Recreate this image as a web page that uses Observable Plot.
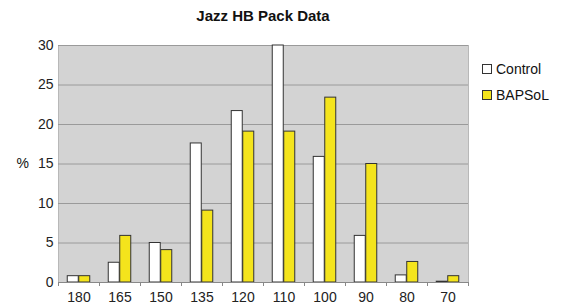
<!DOCTYPE html>
<html><head><meta charset="utf-8">
<script src="https://cdn.jsdelivr.net/npm/d3@7"></script>
<script src="https://cdn.jsdelivr.net/npm/@observablehq/plot@0.6"></script>
<style>
body{margin:0;background:#fff;font-family:"Liberation Sans",Arial,sans-serif;}
#wrap{position:relative;width:563px;height:304px;overflow:hidden;}
#title{position:absolute;left:0;width:526px;top:7px;text-align:center;font-weight:bold;font-size:15px;color:#111;}
#legend{position:absolute;left:482px;top:56px;font-size:14px;color:#111;}
#legend div{display:flex;align-items:center;height:26px;}
#legend span.sw{display:inline-block;width:8px;height:8px;border:1px solid #333;margin-right:4px;}
</style></head>
<body><div id="wrap"><div id="title">Jazz HB Pack Data</div><div id="legend"></div></div>
<script>
const categories = ["180","165","150","135","120","110","100","90","80","70"];
const control = [0.8, 2.5, 5.0, 17.6, 21.7, 30.0, 15.9, 5.9, 0.9, 0.1];
const bapsol = [0.8, 5.9, 4.1, 9.1, 19.1, 19.1, 23.4, 15.0, 2.6, 0.8];
const seriesNames = ["Control", "BAPSoL"];
const seriesColors = ["#ffffff", "#f4e41c"];
const yTicks = [0, 5, 10, 15, 20, 25, 30];

const dataC = categories.map((c, i) => ({cat: c, value: control[i]}));
const dataB = categories.map((c, i) => ({cat: c, value: bapsol[i]}));

const chart = Plot.plot({
  width: 563, height: 304,
  marginLeft: 58, marginRight: 95, marginTop: 45, marginBottom: 22,
  style: {fontFamily: "'Liberation Sans', Arial, sans-serif", fontSize: "14px", color: "#222", background: "transparent"},
  x: {domain: categories, paddingInner: 0.72, paddingOuter: 0.36, label: null, tickSize: 0, tickPadding: 10},
  y: {domain: [0, 30], ticks: yTicks, label: null, tickSize: 0, tickPadding: 5},
  marks: [
    Plot.frame({fill: "#d3d3d3", stroke: "#b8b8b8"}),
    Plot.gridY(yTicks, {stroke: "#9a9a9a", strokeOpacity: 1, strokeWidth: 1}),
    Plot.barY(dataC, {x: "cat", y: "value", dx: -5.75, fill: seriesColors[0], stroke: "#333", strokeWidth: 1}),
    Plot.barY(dataB, {x: "cat", y: "value", dx: 5.75, fill: seriesColors[1], stroke: "#333", strokeWidth: 1}),
    Plot.ruleY([0], {stroke: "#888"}),
    Plot.ruleX(categories, {x: d => d, dx: -20.5, insetTop: 237, insetBottom: -4, stroke: "#888"}),
    Plot.ruleX(categories.slice(-1), {x: d => d, dx: 20.5, insetTop: 237, insetBottom: -4, stroke: "#888"}),
    Plot.text(["%"], {frameAnchor: "left", dx: -42, fontSize: 14, fill: "#111"})
  ]
});
document.getElementById("wrap").prepend(chart);
const lg = document.getElementById("legend");
seriesNames.forEach((n, i) => {
  const d = document.createElement("div");
  d.innerHTML = `<span class="sw" style="background:${seriesColors[i]}"></span>${n}`;
  lg.appendChild(d);
});
</script></body></html>
